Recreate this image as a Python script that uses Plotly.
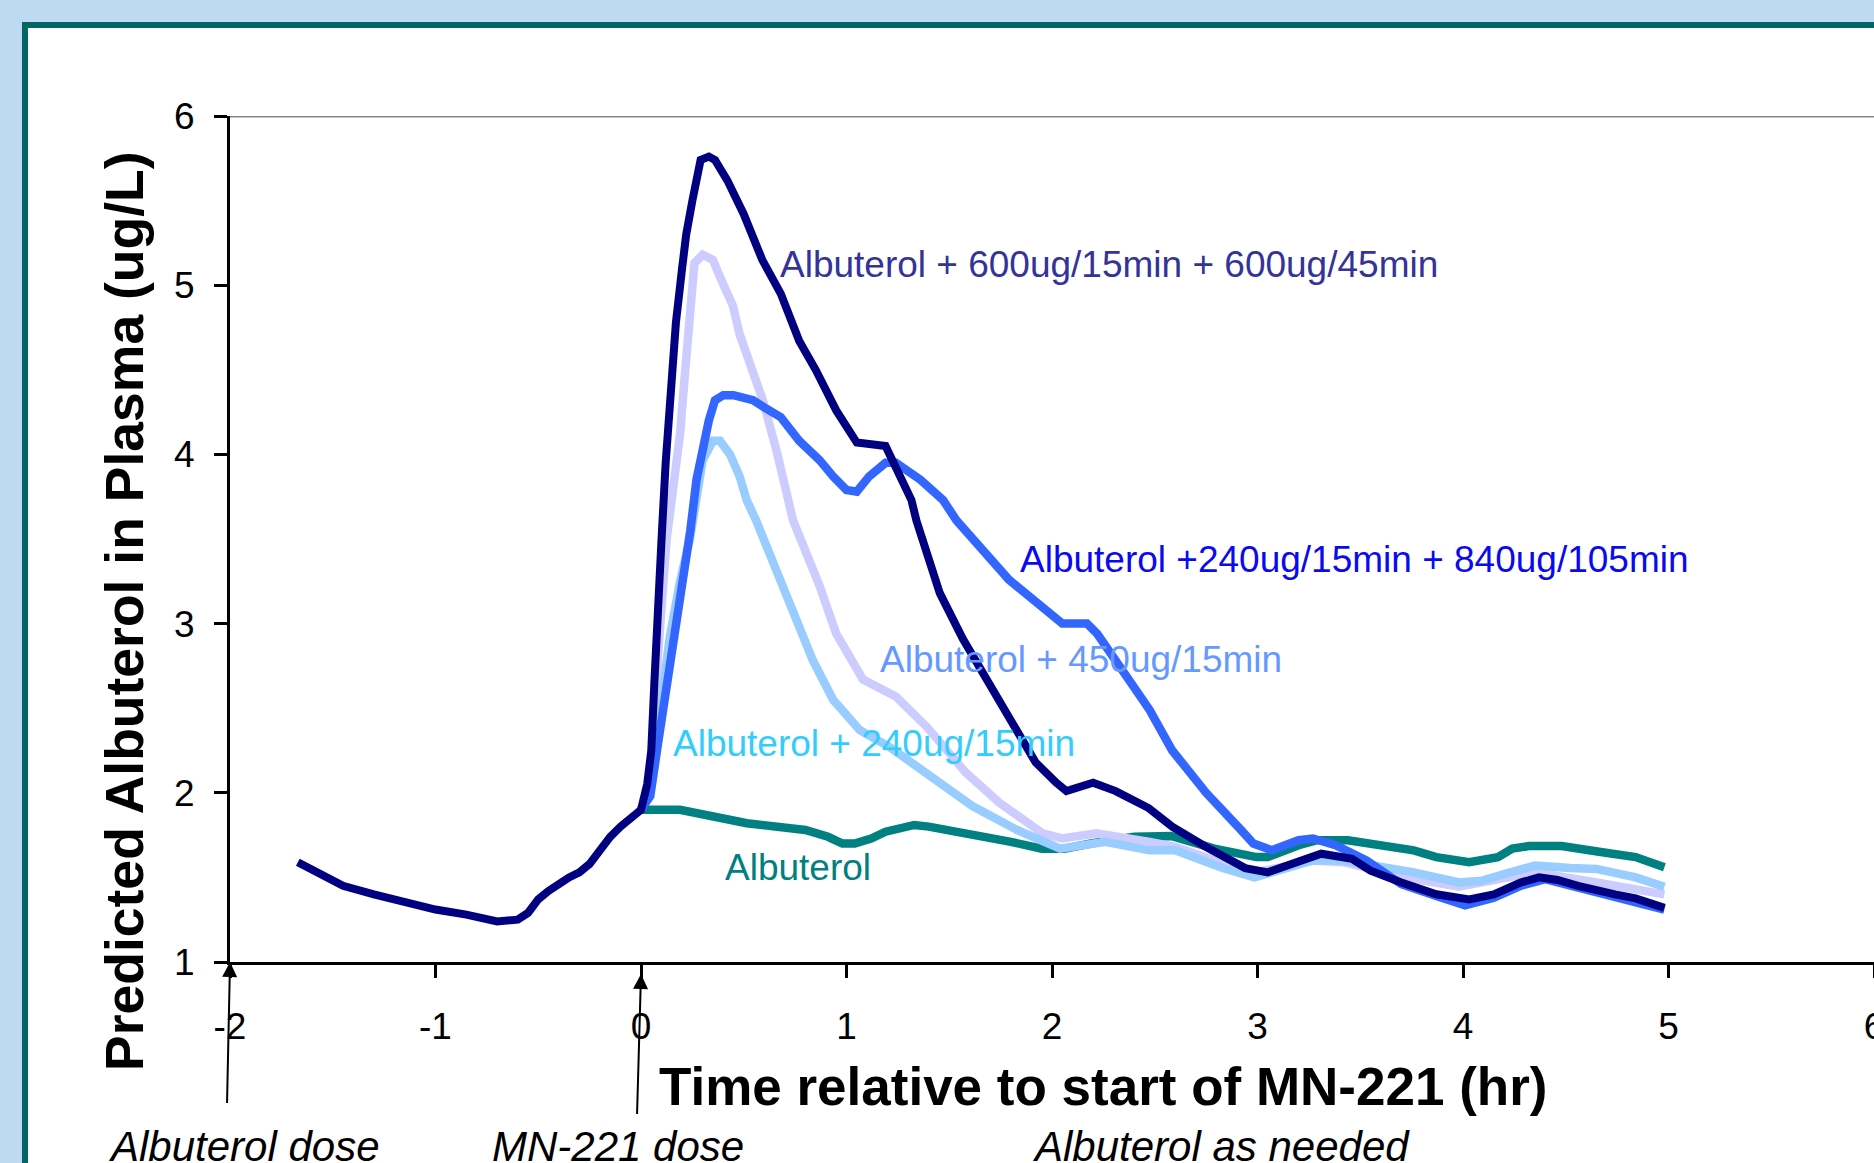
import plotly.graph_objects as go

# ---------------- data ----------------
navy_x = [-1.67, -1.55, -1.45, -1.3, -1.15, -1.0, -0.85, -0.7, -0.6, -0.55,
          -0.5, -0.45, -0.35, -0.3, -0.25, -0.2, -0.15, -0.1, -0.05, 0.0,
          0.03, 0.05, 0.065, 0.08, 0.1, 0.12, 0.14, 0.17, 0.2, 0.22,
          0.25, 0.29, 0.33, 0.36, 0.42, 0.5, 0.59, 0.68, 0.77, 0.85,
          0.95, 1.05, 1.19, 1.225, 1.316, 1.34, 1.454, 1.566, 1.66, 1.81,
          1.92, 2.02, 2.07, 2.2, 2.31, 2.47, 2.585, 2.75, 2.94, 3.05,
          3.2, 3.31, 3.46, 3.55, 3.7, 3.87, 4.03, 4.15, 4.28, 4.37,
          4.46, 4.56, 4.74, 4.84, 4.98]
navy_y = [1.59, 1.52, 1.45, 1.40, 1.35, 1.31, 1.28, 1.24, 1.25, 1.29,
          1.37, 1.42, 1.50, 1.53, 1.58, 1.66, 1.74, 1.80, 1.85, 1.90,
          2.05, 2.25, 2.65, 3.1, 3.5, 3.95, 4.3, 4.78, 5.1, 5.3,
          5.5, 5.74, 5.76, 5.74, 5.62, 5.42, 5.15, 4.95, 4.67, 4.50,
          4.26, 4.07, 4.05, 3.96, 3.73, 3.61, 3.18, 2.91, 2.71, 2.41,
          2.18, 2.06, 2.01, 2.06, 2.01, 1.91, 1.80, 1.68, 1.555, 1.53,
          1.60, 1.64, 1.61, 1.54, 1.47, 1.40, 1.37, 1.40, 1.47, 1.50,
          1.485, 1.45, 1.40, 1.376, 1.32]

blue_x = [0.0, 0.045, 0.09, 0.14, 0.19, 0.24, 0.27, 0.3, 0.33, 0.36,
          0.4, 0.45, 0.545, 0.61, 0.68, 0.77, 0.87, 0.935, 1.0, 1.05,
          1.11, 1.19, 1.24, 1.36, 1.47, 1.535, 1.79, 2.05, 2.17, 2.22,
          2.475, 2.585, 2.75, 2.92, 2.98, 3.07, 3.2, 3.27, 3.38, 3.53,
          3.7, 3.87, 4.01, 4.15, 4.28, 4.4, 4.56, 4.74, 4.84, 4.98]
blue_y = [1.90, 1.98, 2.35, 2.75, 3.12, 3.55, 3.85, 4.05, 4.2, 4.32,
          4.35, 4.35, 4.32, 4.27, 4.22, 4.08, 3.965, 3.87, 3.79, 3.78,
          3.87, 3.95, 3.95, 3.85, 3.73, 3.61, 3.26, 3.0, 3.0, 2.94,
          2.49, 2.25, 2.0, 1.78, 1.70, 1.66, 1.72, 1.73, 1.69, 1.60,
          1.46, 1.39, 1.335, 1.38, 1.45, 1.49, 1.44, 1.39, 1.36, 1.31]

lav_x = [0.0, 0.03, 0.052, 0.083, 0.125, 0.15, 0.19, 0.214, 0.238, 0.26,
         0.30, 0.35, 0.384, 0.447, 0.48, 0.53, 0.593, 0.66, 0.74, 0.87,
         0.95, 1.08, 1.24, 1.39, 1.58, 1.745, 1.955, 2.05, 2.215, 2.475,
         2.6, 2.975, 3.27, 3.42, 3.72, 3.98, 4.2, 4.35, 4.65, 4.98]
lav_y = [1.90, 1.98, 2.12, 2.82, 3.5, 3.75, 4.12, 4.48, 4.83, 5.13,
         5.18, 5.15, 5.05, 4.88, 4.71, 4.54, 4.32, 4.02, 3.61, 3.22,
         2.94, 2.67, 2.57, 2.39, 2.12, 1.94, 1.76, 1.73, 1.76, 1.71,
         1.68, 1.525, 1.60, 1.59, 1.50, 1.445, 1.50, 1.53, 1.47, 1.40]

lb_x = [0.0, 0.044, 0.09, 0.14, 0.19, 0.238, 0.3, 0.35, 0.384, 0.433,
        0.48, 0.514, 0.56, 0.66, 0.757, 0.837, 0.935, 1.065, 1.21, 1.39,
        1.615, 1.83, 2.04, 2.26, 2.475, 2.6, 2.83, 2.985, 3.16, 3.27,
        3.42, 3.57, 3.76, 3.98, 4.09, 4.2, 4.35, 4.52, 4.65, 4.84, 4.98]
lb_y = [1.90, 2.02, 2.45, 2.92, 3.25, 3.5, 3.965, 4.08, 4.08, 4.0,
        3.87, 3.73, 3.61, 3.30, 3.0, 2.78, 2.55, 2.37, 2.27, 2.12,
        1.92, 1.78, 1.67, 1.71, 1.66, 1.66, 1.555, 1.50, 1.56, 1.60,
        1.60, 1.57, 1.53, 1.47, 1.48, 1.52, 1.57, 1.555, 1.55, 1.50, 1.445]

teal_x = [0.0, 0.19, 0.515, 0.67, 0.80, 0.91, 0.98, 1.04, 1.12, 1.19,
          1.33, 1.40, 1.60, 1.80, 1.95, 2.06, 2.19, 2.40, 2.58, 2.79,
          2.995, 3.05, 3.20, 3.29, 3.44, 3.63, 3.76, 3.87, 4.03, 4.17,
          4.24, 4.32, 4.48, 4.67, 4.84, 4.98]
teal_y = [1.90, 1.90, 1.82, 1.80, 1.78, 1.74, 1.70, 1.70, 1.73, 1.77,
          1.81, 1.80, 1.76, 1.71, 1.67, 1.67, 1.70, 1.74, 1.745, 1.67,
          1.62, 1.62, 1.69, 1.72, 1.72, 1.685, 1.66, 1.62, 1.59, 1.62,
          1.67, 1.685, 1.685, 1.65, 1.62, 1.56]

series_names = ["Albuterol",
                "Albuterol + 450ug/15min",
                "Albuterol + 240ug/15min",
                "Albuterol +240ug/15min + 840ug/105min",
                "Albuterol + 600ug/15min + 600ug/45min"]

label_x = [0.397, 1.154, 0.144, 1.833, 0.666]
label_y = [1.557, 2.786, 2.289, 3.376, 5.125]

x_ticks = [-2, -1, 0, 1, 2, 3, 4, 5, 6]
y_ticks = [1, 2, 3, 4, 5, 6]

# ---------------- styling ----------------
W, H = 1874, 1163
L, R, T, B = 230, 1874, 116, 962
FONT = "Liberation Sans, Arial, Helvetica, sans-serif"

line_colors = ["#008080", "#CCCCFF", "#99CCFF", "#3366FF", "#000080"]
text_colors = ["#008080", "#6699FF", "#33CCFF", "#0A0AF0", "#333399"]
xs = [teal_x, lav_x, lb_x, blue_x, navy_x]
ys = [teal_y, lav_y, lb_y, blue_y, navy_y]
widths = [8.5, 8.5, 8.5, 8.5, 8]


def px(xp):
    return (xp - L) / (R - L)


def py(yp):
    return (B - yp) / (B - T)


fig = go.Figure()
for name, x, y, c, w in zip(series_names, xs, ys, line_colors, widths):
    fig.add_trace(go.Scatter(x=x, y=y, mode="lines", name=name,
                             line=dict(color=c, width=w), showlegend=False))

annotations = []
for name, lx, ly, tc in zip(series_names, label_x, label_y, text_colors):
    annotations.append(dict(x=lx, y=ly, xref="x", yref="y", text=name,
                            showarrow=False, xanchor="left", yanchor="middle",
                            font=dict(family=FONT, size=37, color=tc)))

# axis titles
annotations.append(dict(x=px(124), y=py(611), xref="paper", yref="paper",
                        text="<b>Predicted Albuterol in Plasma (ug/L)</b>",
                        textangle=-90, showarrow=False,
                        xanchor="center", yanchor="middle",
                        font=dict(family=FONT, size=53.5, color="black")))
annotations.append(dict(x=px(1103), y=py(1086), xref="paper", yref="paper",
                        text="<b>Time relative to start of MN-221 (hr)</b>",
                        showarrow=False, xanchor="center", yanchor="middle",
                        font=dict(family=FONT, size=53, color="black")))

# italic dose labels
for txt, xl in [("Albuterol dose", 106), ("MN-221 dose", 490),
                ("Albuterol as needed", 1030)]:
    annotations.append(dict(x=px(xl), y=py(1146), xref="paper", yref="paper",
                            text="<i>" + txt + "</i>", showarrow=False,
                            xanchor="left", yanchor="middle",
                            font=dict(family=FONT, size=42, color="black")))

# dose arrows
annotations.append(dict(x=-2, y=1, xref="x", yref="y", text=" ",
                        showarrow=True, arrowhead=2, arrowsize=1.5,
                        arrowwidth=2, arrowcolor="black", ax=-3, ay=143,
                        standoff=0, font=dict(size=1)))
annotations.append(dict(x=0, y=1, xref="x", yref="y", text=" ",
                        showarrow=True, arrowhead=2, arrowsize=1.5,
                        arrowwidth=2, arrowcolor="black", ax=-4, ay=142,
                        yshift=-12, standoff=0, font=dict(size=1)))

shapes = [
    # white panel with teal frame
    dict(type="rect", xref="paper", yref="paper",
         x0=px(25), x1=px(1960), y0=py(1260), y1=py(25),
         line=dict(color="#006666", width=6), fillcolor="white",
         layer="below"),
    # top gray line at y = 6
    dict(type="line", xref="paper", yref="y", x0=0, x1=1, y0=6, y1=6,
         line=dict(color="#888888", width=3), layer="below"),
]

fig.update_layout(
    width=W, height=H,
    margin=dict(l=L, r=W - R, t=T, b=H - B, pad=0, autoexpand=False),
    paper_bgcolor="#BDDAF2",
    plot_bgcolor="white",
    font=dict(family=FONT, color="black"),
    annotations=annotations,
    shapes=shapes,
    showlegend=False,
)

fig.update_xaxes(range=[-2, 6], tickmode="array", tickvals=x_ticks,
                 ticktext=[str(v) for v in x_ticks], automargin=False,
                 showgrid=False, zeroline=False, showline=True,
                 linecolor="black", linewidth=3,
                 ticks="outside", ticklen=13, tickwidth=3, tickcolor="black",
                 tickfont=dict(family=FONT, size=37, color="black"),
                 ticklabelstandoff=17, ticklabeloverflow="allow")
fig.update_yaxes(range=[1, 6], tickmode="array", tickvals=y_ticks,
                 ticktext=[str(v) for v in y_ticks], automargin=False,
                 showgrid=False, zeroline=False, showline=True,
                 linecolor="black", linewidth=3,
                 ticks="outside", ticklen=13, tickwidth=3, tickcolor="black",
                 tickfont=dict(family=FONT, size=37, color="black"),
                 ticklabelstandoff=12)

fig.write_html("out.html")
